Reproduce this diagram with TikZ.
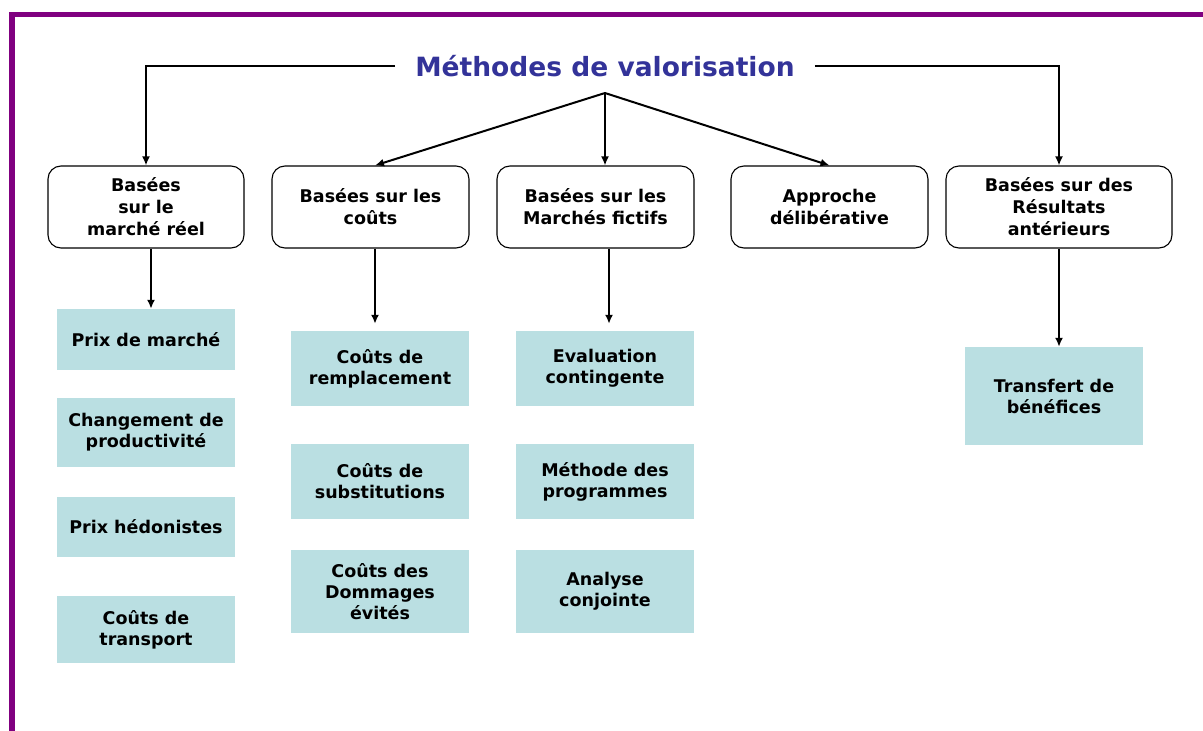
\documentclass[tikz,border=0pt]{standalone}
\usepackage{fontspec}
\setmainfont{DejaVu Sans}
\usetikzlibrary{arrows.meta}
\definecolor{framepurple}{HTML}{800080}
\definecolor{titleblue}{HTML}{333399}
\definecolor{leafcyan}{HTML}{BADFE2}
\tikzset{
  catbox/.style={draw=black,line width=1.1pt,rounded corners=13pt,fill=white,
    minimum height=82pt,align=center,inner sep=2pt,
    font=\fontsize{17.5}{22}\selectfont\bfseries},
  leafbox/.style={fill=leafcyan,minimum width=178pt,align=center,inner sep=2pt,
    font=\fontsize{17.5}{21}\selectfont\bfseries},
  link/.style={line width=2pt,-{Latex[length=9pt,width=8pt]}},
}
\begin{document}
\begin{tikzpicture}[x=1pt,y=-1pt]
\useasboundingbox (0,0) rectangle (1203,731);
%% frame
\fill[framepurple] (9,12) rectangle (1203,17);
\fill[framepurple] (9,12) rectangle (15,731);
%% title
\node (titre) at (605,66) [inner xsep=20pt,text=titleblue,font=\fontsize{26.5}{30}\selectfont\bfseries] {Méthodes de valorisation};
\coordinate (hub) at (605,93);
%% categories
\node (reel) at (146,207) [catbox,minimum width=196pt] {Basées\\sur le\\marché réel};
\node (couts) at (370.5,207) [catbox,minimum width=197pt] {Basées sur les\\coûts};
\node (fictifs) at (595.5,207) [catbox,minimum width=197pt] {Basées sur les\\Marchés fictifs};
\node (delib) at (829.5,207) [catbox,minimum width=197pt] {Approche\\délibérative};
\node (result) at (1059,207) [catbox,minimum width=226pt] {Basées sur des\\Résultats\\antérieurs};
%% methods
\node (prix) at (146,339.5) [leafbox,minimum height=61pt] {Prix de marché};
\node (prod) at (146,432.5) [leafbox,minimum height=69pt] {Changement de\\productivité};
\node (hedon) at (146,527) [leafbox,minimum height=60pt] {Prix hédonistes};
\node (transp) at (146,629.5) [leafbox,minimum height=67pt] {Coûts de\\transport};
\node (rempl) at (380,368.5) [leafbox,minimum height=75pt] {Coûts de\\remplacement};
\node (subst) at (380,481.5) [leafbox,minimum height=75pt] {Coûts de\\substitutions};
\node (domm) at (380,591.5) [leafbox,minimum height=83pt] {Coûts des\\Dommages\\évités};
\node (conting) at (605,368.5) [leafbox,minimum height=75pt] {Evaluation\\contingente};
\node (progr) at (605,481.5) [leafbox,minimum height=75pt] {Méthode des\\programmes};
\node (conj) at (605,591.5) [leafbox,minimum height=83pt] {Analyse\\conjointe};
\node (transf) at (1054,396) [leafbox,minimum height=98pt] {Transfert de\\bénéfices};
%% links
\draw [link] (titre.west) -| (reel.north);
\draw [link] (titre.east) -| (result.north);
\draw [link] (hub) -- ([xshift=4.5pt]couts.north);
\draw [link] (hub) -- ([xshift=9.5pt]fictifs.north);
\draw [link] (hub) -- (delib.north);
\draw [link] ([xshift=5pt]reel.south) -- ([xshift=5pt]prix.north);
\draw [link,shorten >=7pt] ([xshift=4.5pt]couts.south) -- ([xshift=-5pt]rempl.north);
\draw [link,shorten >=7pt] ([xshift=13.5pt]fictifs.south) -- ([xshift=4pt]conting.north);
\draw [link] (result.south) -- ([xshift=5pt]transf.north);
%
\end{tikzpicture}
\end{document}
